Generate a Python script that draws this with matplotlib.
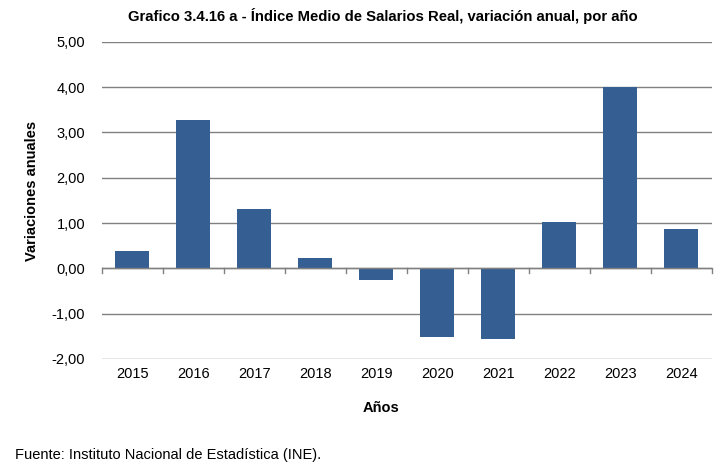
"""Indice Medio de Salarios Real, variacion anual"""

import matplotlib.pyplot as plt
from matplotlib.ticker import FuncFormatter

plt.rcParams["font.family"] = ["Liberation Sans", "DejaVu Sans"]

years = ["2015", "2016", "2017", "2018", "2019",
         "2020", "2021", "2022", "2023", "2024"]
variations = [0.39, 3.27, 1.31, 0.22, -0.26, -1.51, -1.55, 1.03, 4.00, 0.86]
y_ticks = [-2, -1, 0, 1, 2, 3, 4, 5]

fig = plt.figure(figsize=(7.27, 4.71), dpi=100)
ax = fig.add_axes([0.140, 0.238, 0.839, 0.673])

x = list(range(len(years)))
ax.bar(x, variations, width=0.56, color="#355f93", zorder=3)

ax.set_ylim(-2, 5)
ax.set_xlim(-0.5, len(years) - 0.5)
ax.set_yticks(y_ticks)
ax.yaxis.set_major_formatter(
    FuncFormatter(lambda v, _: f"{v:.2f}".replace(".", ",")))
ax.grid(axis="y", color="#808080", linewidth=1, zorder=0)
ax.tick_params(axis="y", length=0, pad=12, labelsize=10.5)

for side in ["left", "right", "top", "bottom"]:
    ax.spines[side].set_visible(False)

# category axis at zero with tick marks between categories
ax.axhline(0, color="#808080", linewidth=1, zorder=4)
ax.set_xticks(x)
ax.set_xticklabels(years)
ax.tick_params(axis="x", length=0, labelsize=10.5, pad=6)
for b in [i - 0.5 for i in range(len(years) + 1)]:
    ax.plot([b, b], [0, -0.1], color="#808080", linewidth=1, zorder=4,
            clip_on=False)

fig.text(0.527, 0.965, "Grafico 3.4.16 a - Índice Medio de Salarios Real, "
         "variación anual, por año", ha="center", va="center",
         fontsize=10.7, fontweight="bold")
fig.text(0.044, 0.595, "Variaciones anuales", rotation=90, ha="center",
         va="center", fontsize=10.5, fontweight="bold")
fig.text(0.524, 0.134, "Años", ha="center", va="center",
         fontsize=10.5, fontweight="bold")
fig.text(0.021, 0.034, "Fuente: Instituto Nacional de Estadística (INE).",
         ha="left", va="center", fontsize=10.5)

fig.savefig("out.png", dpi=100)
